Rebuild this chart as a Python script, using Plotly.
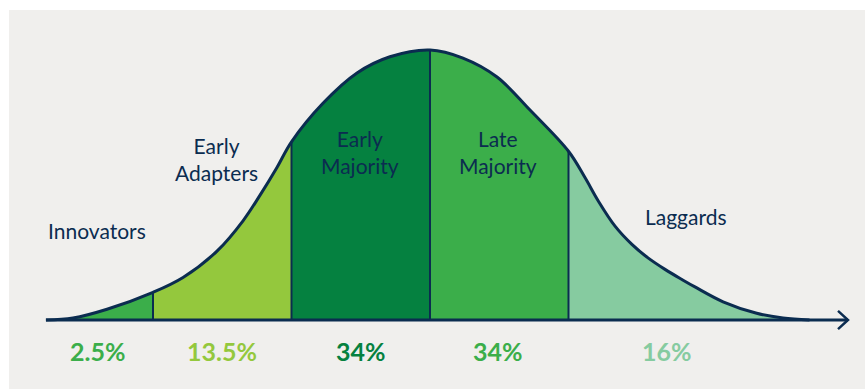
import plotly.graph_objects as go

# ---- data (x in standard deviations, y as relative density) ----
curve_x = [-2.773, -2.578, -2.332, -2.0, -1.783, -1.538, -1.350, -1.227, -1.105,
           -1.0, -0.773, -0.527, -0.289, 0.0, 0.238, 0.484, 0.722, 1.0, 1.119, 1.213,
           1.336, 1.458, 1.574, 1.697, 1.819, 1.913, 2.116, 2.359, 2.549, 2.740]
curve_y = [0.0, 0.003, 0.016, 0.041, 0.063, 0.102, 0.147, 0.185, 0.226,
           0.264, 0.321, 0.366, 0.390, 0.400, 0.388, 0.360, 0.311, 0.250, 0.211, 0.177,
           0.139, 0.112, 0.092, 0.075, 0.060, 0.049, 0.027, 0.010, 0.003, 0.0]

segments = ["Innovators", "Early Adapters", "Early Majority", "Late Majority", "Laggards"]
seg_labels = ["Innovators", "Early<br>Adapters", "Early<br>Majority", "Late<br>Majority", "Laggards"]
seg_bounds = [-2.773, -2.0, -1.0, 0.0, 1.0, 2.740]
percents = ["2.5%", "13.5%", "34%", "34%", "16%"]
seg_colors = ["#3bae4a", "#94c83d", "#058140", "#3bae4a", "#86cba0"]
label_pos = [(-2.404, 0.132), (-1.538, 0.239), (-0.505, 0.249), (0.491, 0.249), (1.848, 0.154)]
pct_x = [-2.404, -1.502, -0.498, 0.491, 1.711]
pct_y = -0.046

NAVY = "#0b2c50"
AXIS_START, AXIS_END = -2.773, 3.018
ARROW_DX, ARROW_DY = 0.072, 0.0135

fig = go.Figure()

# filled segments
for i, name in enumerate(segments):
    lo, hi = seg_bounds[i], seg_bounds[i + 1]
    xs = [x for x in curve_x if lo <= x <= hi]
    ys = [y for x, y in zip(curve_x, curve_y) if lo <= x <= hi]
    fig.add_trace(go.Scatter(x=xs, y=ys, mode="lines", fill="tozeroy",
                             fillcolor=seg_colors[i], line=dict(width=0, shape="spline"),
                             hoverinfo="skip", showlegend=False, name=name))

# dividers
for b in seg_bounds[1:-1]:
    yb = curve_y[curve_x.index(b)]
    fig.add_trace(go.Scatter(x=[b, b], y=[0, yb], mode="lines",
                             line=dict(color=NAVY, width=2), hoverinfo="skip", showlegend=False))

# outline curve
fig.add_trace(go.Scatter(x=curve_x, y=curve_y, mode="lines",
                         line=dict(color=NAVY, width=3, shape="spline"),
                         hoverinfo="skip", showlegend=False))

# axis with open arrow
fig.add_trace(go.Scatter(x=[AXIS_START, AXIS_END], y=[0, 0], mode="lines",
                         line=dict(color=NAVY, width=3), hoverinfo="skip", showlegend=False))
fig.add_trace(go.Scatter(x=[AXIS_END - ARROW_DX, AXIS_END, AXIS_END - ARROW_DX],
                         y=[ARROW_DY, 0, -ARROW_DY], mode="lines",
                         line=dict(color=NAVY, width=2.5), hoverinfo="skip", showlegend=False))

# labels
for (lx, ly), txt in zip(label_pos, seg_labels):
    fig.add_annotation(x=lx, y=ly, text=txt, showarrow=False,
                       font=dict(family="Lato", size=21, color=NAVY), align="center")
for px, txt, c in zip(pct_x, percents, seg_colors):
    fig.add_annotation(x=px, y=pct_y, text="<b>" + txt + "</b>", showarrow=False,
                       font=dict(family="Lato", size=25, color=c))

# grey background panel
fig.add_shape(type="rect", xref="paper", yref="paper", x0=9 / 865, x1=1.0, y0=0, y1=1 - 10 / 389,
              fillcolor="#f0efed", line=dict(width=0), layer="below")

fig.update_layout(
    width=865, height=389,
    margin=dict(l=0, r=0, t=0, b=0),
    paper_bgcolor="white", plot_bgcolor="rgba(0,0,0,0)",
    xaxis=dict(range=[-430 / 138.5, 435 / 138.5], visible=False, fixedrange=True),
    yaxis=dict(range=[-69 / 675, 320 / 675], visible=False, fixedrange=True),
    showlegend=False,
)

fig.write_html("out.html", config={"displayModeBar": False})
